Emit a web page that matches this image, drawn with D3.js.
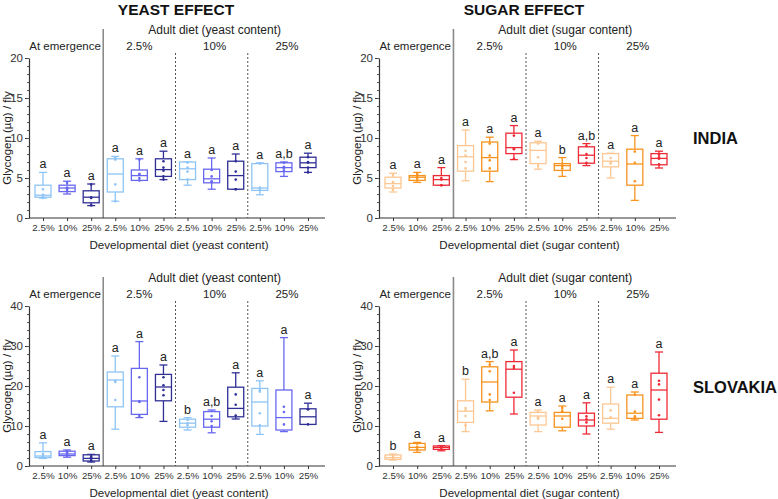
<!DOCTYPE html>
<html><head><meta charset="utf-8">
<script src="https://cdn.jsdelivr.net/npm/d3@7"></script>
<style>
body{margin:0;background:#fff;}
svg{display:block;font-family:"Liberation Sans",Arial,sans-serif;}
</style></head>
<body><svg id="c" width="778" height="499"></svg>
<script>
// ---------- DATA ----------
const devLabels = ["2.5%","10%","25%"];
const groupLabels = ["At emergence","2.5%","10%","25%"];
const yeastColors = ["#8fc5f6","#6767ef","#2f2f96"];
const sugarColors = ["#fcc793","#f7931e","#ee2a36"];

// box stats: [min, q1, median, q3, max]
const indiaYeastBox = [
 [2.5,2.6,2.85,4.1,5.7],[3.0,3.3,3.75,4.1,4.6],[1.55,1.9,2.6,3.4,4.25],
 [2.1,3.25,5.5,7.4,7.7],[4.7,4.7,5.3,6.0,7.4],[4.8,5.2,6.05,7.4,8.35],
 [4.1,4.8,6.15,7.0,7.0],[3.6,4.4,4.9,6.1,7.5],[3.6,3.6,5.3,7.1,8.0],
 [2.9,3.45,3.75,6.8,6.9],[5.2,5.8,6.3,6.9,7.0],[5.7,6.3,6.9,7.6,8.1]
];
const indiaYeastPts = [
 [2.5,2.6,2.9,3.6],[3.5,3.7,3.8,4.4],[1.6,1.6,2.5,2.6,4.2],
 [2.1,4.2,7.3,7.6],[4.7,5.0,5.5,5.5,7.3],[4.8,5.2,5.9,6.3,7.1],
 [4.8,5.8,6.3,6.9],[4.5,4.6,5.2,6.0],[3.6,3.6,4.8,5.8,7.1],
 [3.5,3.8,6.8],[5.9,6.2,6.4,6.9],[5.7,6.3,6.9,7.0,7.6]
];
const indiaYeastLetters = ["a","a","a","a","a","a","a","a","a","a","a,b","a"];

const indiaSugarBox = [
 [3.25,3.75,4.3,5.1,5.6],[4.45,4.7,5.1,5.3,5.7],[4.1,4.1,4.8,5.3,6.3],
 [4.65,5.85,7.65,9.05,11.0],[4.55,5.85,7.55,9.5,10.1],[7.3,8.05,8.8,10.6,11.55],
 [6.1,6.8,8.45,9.4,9.6],[5.2,5.95,6.55,6.8,7.55],[6.55,6.85,7.85,8.9,9.3],
 [5.0,6.4,7.1,8.05,8.1],[2.2,4.1,6.75,8.6,10.3],[6.25,6.65,7.45,8.05,8.35]
];
const indiaSugarPts = [
 [3.6,4.0,4.5,5.4],[4.9,5.1,5.3,5.5],[4.1,4.1,4.8,5.0],
 [6.2,7.0,7.8,8.4],[6.2,7.2,7.8,9.3],[7.4,8.6,8.7,10.3],
 [6.5,7.6,9.3],[6.2,6.5,6.6],[6.9,7.5,8.0,9.0],
 [6.8,7.0,7.5],[4.6,6.9,8.3],[6.7,7.4,7.6,7.9]
];
const indiaSugarLetters = ["a","a","a","a","a","a","a","b","a,b","a","a","a"];

const slovakiaYeastBox = [
 [1.9,2.1,2.5,3.6,5.8],[2.2,2.6,3.0,3.7,4.0],[1.0,1.25,1.9,2.8,2.9],
 [9.2,14.8,21.5,23.5,27.5],[12.1,12.9,16.25,24.4,31.1],[11.15,16.3,19.75,22.9,25.25],
 [9.0,9.7,10.7,11.7,12.1],[8.3,9.7,11.7,13.6,14.0],[11.75,12.3,14.4,19.7,23.3],
 [7.9,10.0,16.0,19.4,21.3],[8.6,9.0,12.1,19.0,32.1],[10.4,10.4,12.3,14.3,15.7]
];
const slovakiaYeastPts = [
 [2.2,2.4,3.0],[2.6,3.0,3.4,3.7],[1.2,1.5,2.2,2.5],
 [16.5,21.0,21.3],[12.5,16.0,16.2,22.2],[17.7,19.0,20.2,22.2],
 [10.2,10.7,11.5],[10.0,11.2,12.5],[12.6,15.3,17.9],
 [10.2,13.2,18.6,19.0],[10.4,13.5,14.8],[10.4,14.2,14.2]
];
const slovakiaYeastLetters = ["a","a","a","a","a","a","b","a,b","a","a","a","a"];

const slovakiaSugarBox = [
 [1.5,1.65,2.1,2.75,3.0],[3.4,4.0,4.65,5.65,5.9],[3.8,4.15,4.65,5.0,5.1],
 [8.6,10.9,13.7,16.3,21.7],[13.8,16.0,21.0,24.8,26.1],[13.0,17.2,24.2,26.1,29.0],
 [8.6,10.25,12.5,13.4,14.0],[8.8,9.7,12.5,13.4,15.0],[8.0,10.0,11.5,13.2,15.8],
 [9.2,10.7,11.9,15.5,19.7],[11.5,11.9,13.2,17.75,18.5],[8.4,11.7,19.0,23.2,28.5]
];
const slovakiaSugarPts = [
 [1.8,2.2,2.6],[4.2,4.8,5.6],[4.2,4.6,4.9],
 [10.2,12.5,13.9,14.5],[16.5,17.9,23.7,25.3],[18.3,24.5,25.0],
 [11.8,12.2,13.5],[11.8,13.7,14.5],[10.9,11.7,12.4],
 [12.2,13.9],[12.0,12.4,13.6,17.8],[12.7,16.6,20.4,21.3]
];
const slovakiaSugarLetters = ["b","a","a","b","a,b","a","a","a","a","a","a","a"];

// ---------- DRAW ----------
const svg = d3.select("#c");
const FONT = "Liberation Sans, Arial, sans-serif";

function panel(o){
  const g = svg.append("g");
  const idx = d3.range(12);
  const x = d3.scalePoint().domain(idx).range([o.x0+14, o.x1-17]);
  const y = d3.scaleLinear().domain([0,o.ymax]).range([o.y0, o.y0-160]);
  const step = x.step();

  // separators
  const sepTop = o.y0 - 189, dashTop = o.y0 - 165;
  g.append("line").attr("x1",x(2)+step/2).attr("x2",x(2)+step/2)
    .attr("y1",sepTop).attr("y2",o.y0).attr("stroke","#8a8a8a").attr("stroke-width",1.6);
  [5,8].forEach(i=>{
    g.append("line").attr("x1",x(i)+step/2).attr("x2",x(i)+step/2)
     .attr("y1",dashTop).attr("y2",o.y0).attr("stroke","#555").attr("stroke-width",1)
     .attr("stroke-dasharray","2,2");
  });

  // y axis
  const ya = g.append("g").attr("transform",`translate(${o.x0},0)`)
    .call(d3.axisLeft(y).tickValues(o.yticks).tickSize(4).tickPadding(2).tickSizeOuter(0));
  ya.select(".domain").attr("stroke","#333").attr("stroke-width",1.2);
  ya.selectAll(".tick line").attr("stroke","#333");
  ya.selectAll("text").attr("font-size",11.5).attr("fill","#333").attr("font-family",FONT);
  g.append("g").attr("transform",`translate(${o.x0},0)`)
    .call(d3.axisLeft(y).tickValues(d3.range(0,o.ymax+0.001,o.minor)).tickSize(2).tickFormat(""))
    .call(s=>{s.select(".domain").remove(); s.selectAll("line").attr("stroke","#555");});

  // x axis
  g.append("line").attr("x1",o.x0).attr("x2",o.x1).attr("y1",o.y0).attr("y2",o.y0)
    .attr("stroke","#333").attr("stroke-width",1.2);
  const xa = g.append("g").attr("transform",`translate(0,${o.y0})`)
    .call(d3.axisBottom(x).tickSize(3).tickPadding(3).tickFormat(i=>devLabels[i%3]));
  xa.select(".domain").remove();
  xa.selectAll(".tick line").attr("stroke","#333");
  xa.selectAll("text").attr("font-size",9.8).attr("fill","#333").attr("font-family",FONT);

  // boxes
  idx.forEach(i=>{
    const s = o.box[i], c = o.colors[i%3], cx = x(i), hw = 8, cw = 4;
    const bg = g.append("g").attr("stroke",c).attr("stroke-width",1.3).attr("fill","none");
    bg.append("line").attr("x1",cx).attr("x2",cx).attr("y1",y(s[4])).attr("y2",y(s[3]));
    bg.append("line").attr("x1",cx).attr("x2",cx).attr("y1",y(s[1])).attr("y2",y(s[0]));
    bg.append("line").attr("x1",cx-cw).attr("x2",cx+cw).attr("y1",y(s[4])).attr("y2",y(s[4]));
    bg.append("line").attr("x1",cx-cw).attr("x2",cx+cw).attr("y1",y(s[0])).attr("y2",y(s[0]));
    bg.append("rect").attr("x",cx-hw).attr("width",2*hw).attr("y",y(s[3]))
      .attr("height",Math.max(0.5,y(s[1])-y(s[3]))).attr("fill","#fff");
    bg.append("line").attr("x1",cx-hw).attr("x2",cx+hw).attr("y1",y(s[2])).attr("y2",y(s[2]));
    o.pts[i].forEach(v=>{
      g.append("circle").attr("cx",cx).attr("cy",y(v)).attr("r",1.3).attr("fill",c);
    });
    g.append("text").attr("x",cx).attr("y",y(s[4])-4).attr("text-anchor","middle")
      .attr("font-size",12.5).attr("fill","#222").attr("font-family",FONT).text(o.letters[i]);
  });

  // header texts
  const headY = o.y0 - 168;
  g.append("text").attr("x",x(1)-2).attr("y",headY).attr("text-anchor","middle")
    .attr("font-size",11.5).attr("fill","#222").text(groupLabels[0]);
  [1,2,3].forEach(k=>{
    g.append("text").attr("x",x(k*3+1)+(k>1?3:0)).attr("y",headY).attr("text-anchor","middle")
      .attr("font-size",11.5).attr("fill","#222").text(groupLabels[k]);
  });
  g.append("text").attr("x",(x(3)+x(11))/2+3).attr("y",o.y0-184).attr("text-anchor","middle")
    .attr("font-size",12).attr("fill","#222").text(o.adultTitle);
  g.append("text").attr("x",(o.x0+o.x1)/2+2).attr("y",o.y0+31).attr("text-anchor","middle")
    .attr("font-size",11.6).attr("fill","#222").text(o.devTitle);
  g.append("text").attr("transform",`translate(${o.x0-18},${o.y0-80}) rotate(-90)`)
    .attr("text-anchor","middle").attr("font-size",11.5).attr("fill","#222").text("Glycogen (µg) / fly");
}

panel({x0:29,x1:325,y0:218,ymax:20,yticks:[0,5,10,15,20],minor:1,box:indiaYeastBox,pts:indiaYeastPts,
  letters:indiaYeastLetters,colors:yeastColors,adultTitle:"Adult diet (yeast content)",devTitle:"Developmental diet (yeast content)"});
panel({x0:379,x1:676,y0:218,ymax:20,yticks:[0,5,10,15,20],minor:1,box:indiaSugarBox,pts:indiaSugarPts,
  letters:indiaSugarLetters,colors:sugarColors,adultTitle:"Adult diet (sugar content)",devTitle:"Developmental diet (sugar content)"});
panel({x0:29,x1:325,y0:466,ymax:40,yticks:[0,10,20,30,40],minor:2,box:slovakiaYeastBox,pts:slovakiaYeastPts,
  letters:slovakiaYeastLetters,colors:yeastColors,adultTitle:"Adult diet (yeast content)",devTitle:"Developmental diet (yeast content)"});
panel({x0:379,x1:676,y0:466,ymax:40,yticks:[0,10,20,30,40],minor:2,box:slovakiaSugarBox,pts:slovakiaSugarPts,
  letters:slovakiaSugarLetters,colors:sugarColors,adultTitle:"Adult diet (sugar content)",devTitle:"Developmental diet (sugar content)"});

svg.selectAll("text").attr("font-family",FONT);
svg.append("text").attr("x",176).attr("y",15).attr("text-anchor","middle").attr("font-weight","bold")
  .attr("font-size",15.5).attr("fill","#111").attr("font-family",FONT).text("YEAST EFFECT");
svg.append("text").attr("x",524).attr("y",15).attr("text-anchor","middle").attr("font-weight","bold")
  .attr("font-size",15.5).attr("fill","#111").attr("font-family",FONT).text("SUGAR EFFECT");
svg.append("text").attr("x",693).attr("y",144).attr("font-weight","bold")
  .attr("font-size",16.5).attr("fill","#111").attr("font-family",FONT).text("INDIA");
svg.append("text").attr("x",693).attr("y",393).attr("font-weight","bold")
  .attr("font-size",16.5).attr("fill","#111").attr("font-family",FONT).text("SLOVAKIA");
</script></body></html>
